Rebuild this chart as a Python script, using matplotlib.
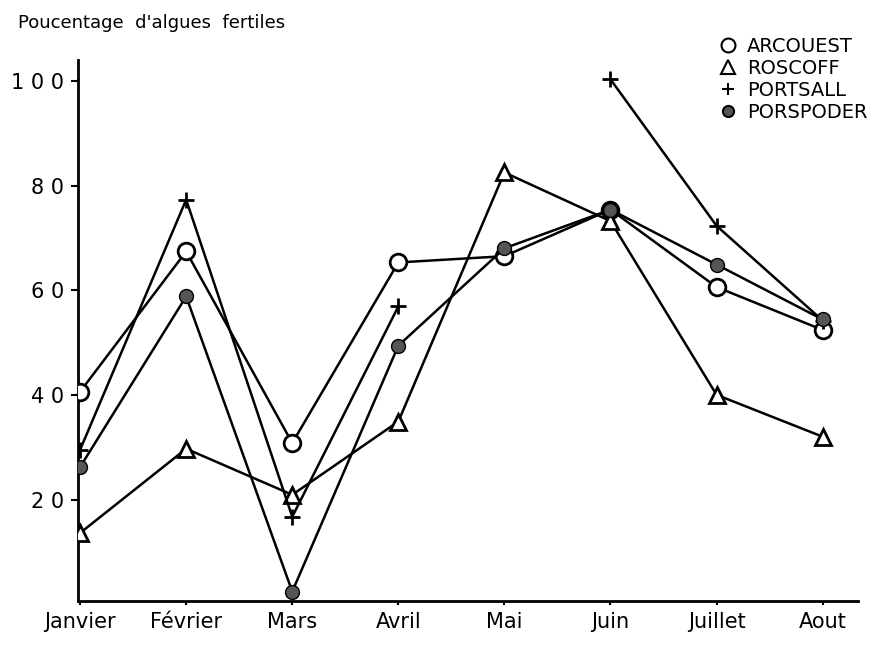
import numpy as np
from matplotlib import pyplot as plt
from matplotlib.lines import Line2D

mois = ['Janvier', 'Février', 'Mars', 'Avril', 'Mai', 'Juin', 'Juillet', 'Aout']

arcouest = [40.6, 67.4, 30.8, 65.3, 66.5, 75.4, 60.6, 52.4]
roscoff = [13.6, 29.7, 20.9, 34.9, 82.5, 73.2, 40.0, 32.0]
portsall = [29.5, 77.3, 16.7, 56.9, np.nan, 100.3, 72.3, 54.2]
porspoder = [26.2, 58.8, 2.4, 49.4, 68.0, 75.4, 64.9, 54.4]

labs = ['ARCOUEST', 'ROSCOFF', 'PORTSALL', 'PORSPODER']
markers = ['o', '^', '+', 'o']
faces = ['white', 'white', 'black', '#555555']
sizes = [12, 12, 11, 10]
series = [arcouest, roscoff, portsall, porspoder]

plt.rcParams['font.family'] = ['DejaVu Sans']

fig = plt.figure(figsize=(8.81, 6.48), dpi=100)
ax = fig.add_axes([0.0885, 0.0725, 0.885, 0.835])

x = np.arange(len(mois))
for index in range(4):
    ax.plot(x, series[index], color='black', linewidth=1.8, marker=markers[index],
            markersize=sizes[index], markerfacecolor=faces[index],
            markeredgecolor='black', markeredgewidth=2 if index != 3 else 1, zorder=3)

ax.set_xlim(-0.02, 7.33)
ax.set_ylim(0.6, 104)
ax.set_xticks(x)
ax.set_xticklabels(mois, fontsize=15)
ax.set_yticks([20, 40, 60, 80, 100])
ax.set_yticklabels(['2 0', '4 0', '6 0', '8 0', '1 0 0'], fontsize=15)
ax.tick_params(axis='y', length=5, width=1.5, direction='out', pad=5)
ax.tick_params(axis='x', length=3, width=1.5, direction='out', pad=5)
for s in ['top', 'right']:
    ax.spines[s].set_visible(False)
for s in ['left', 'bottom']:
    ax.spines[s].set_linewidth(2)

fig.text(0.02, 0.965, "Poucentage  d'algues  fertiles", fontsize=13, ha='left', va='center')

handles = [Line2D([], [], linestyle='none', marker=markers[i], markersize=sizes[i] - 2,
                  markerfacecolor=faces[i], markeredgecolor='black',
                  markeredgewidth=1.5) for i in range(4)]
ax.legend(handles, labs, loc='upper right', bbox_to_anchor=(1.035, 1.075), frameon=False,
          fontsize=14, handletextpad=0.35, labelspacing=0.15, handlelength=1.2)

plt.savefig('out.png', dpi=100)
